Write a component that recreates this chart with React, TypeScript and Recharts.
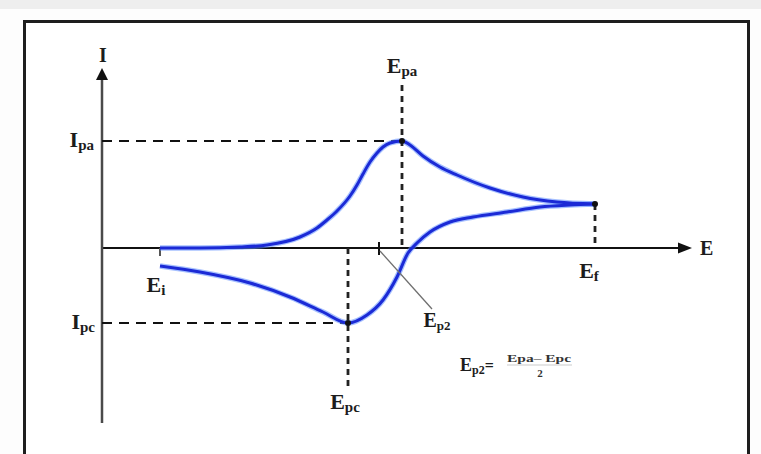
import {
  ComposedChart,
  Line,
  XAxis,
  YAxis,
  ReferenceLine,
  ReferenceDot,
} from "recharts";

// potential sweep, forward (Ei -> Ef)
const forwardE = [58, 98, 138, 165, 198, 215, 225, 235, 248, 255, 261, 268, 275, 281, 288, 300, 308, 321, 338, 355, 388, 421, 455, 493];
const forwardI = [0, 0, 1, 3, 11, 20, 28, 37, 52, 63, 74, 86, 95, 101, 105, 107, 103, 92, 81, 73, 60, 51, 46, 44];

// reverse sweep (Ef -> Ei)
const reverseE = [493, 468, 438, 405, 371, 348, 328, 315, 306, 295, 281, 265, 246, 221, 188, 148, 98, 58];
const reverseI = [44, 43, 41, 36, 31, 26, 16, 5, -5, -29, -52, -67, -75, -64, -49, -35, -24, -18];

// characteristic potentials on the E axis
const potentialNames = ["Ei", "Epc", "Ep2", "Epa", "Ef"];
const potentialValues = [58, 246, 277, 300, 493];

// peak currents
const currentNames = ["Ipa", "Ipc"];
const currentValues = [107, -75];

const E_MAX = 590;
const I_MIN = -175;
const I_MAX = 180;

const pot = (name: string) => potentialValues[potentialNames.indexOf(name)];
const cur = (name: string) => currentValues[currentNames.indexOf(name)];

const Ei = pot("Ei");
const Epc = pot("Epc");
const Ep2 = pot("Ep2");
const Epa = pot("Epa");
const Ef = pot("Ef");
const Ipa = cur("Ipa");
const Ipc = cur("Ipc");
const IfEnd = forwardI[forwardI.length - 1];

const forward = forwardE.map((E, i) => ({ E, I: forwardI[i] }));
// monotone curve wants ascending E
const reverse = reverseE
  .map((E, i) => ({ E, I: reverseI[i] }))
  .sort((a, b) => a.E - b.E);

const serif = "'Liberation Serif', 'DejaVu Serif', serif";
const ink = "#1c1c1c";

type DotProps = { cx?: number; cy?: number };

function symbol(
  main: string,
  sub: string,
  dx: number,
  dy: number,
  anchor: "start" | "middle" | "end" = "middle",
  size = 22
) {
  return (p: DotProps) => (
    <text
      x={(p.cx ?? 0) + dx}
      y={(p.cy ?? 0) + dy}
      textAnchor={anchor}
      fontFamily={serif}
      fontWeight="bold"
      fontSize={size}
      fill={ink}
    >
      {main}
      {sub ? (
        <tspan fontSize={Math.round(size * 0.66)} dy={3}>
          {sub}
        </tspan>
      ) : null}
    </text>
  );
}

const arrowRight = (p: DotProps) => {
  const x = p.cx ?? 0;
  const y = p.cy ?? 0;
  return <polygon points={`${x},${y} ${x - 14},${y - 5.5} ${x - 14},${y + 5.5}`} fill="#111" />;
};

const arrowUp = (p: DotProps) => {
  const x = p.cx ?? 0;
  const y = p.cy ?? 0;
  return <polygon points={`${x},${y} ${x - 6},${y + 12} ${x + 6},${y + 12}`} fill="#111" />;
};

const ep2Label = (p: DotProps) => {
  const x = p.cx ?? 0;
  const y = p.cy ?? 0;
  return (
    <g>
      <line x1={x + 1} y1={y + 3} x2={x + 53} y2={y + 61} stroke="#6f6f6f" strokeWidth={1.3} />
      {symbol("E", "p2", 58, 79, "middle", 20)(p)}
      {/* Ep2 = (Epa - Epc) / 2 */}
      <text x={x + 81} y={y + 123} fontFamily={serif} fontWeight="bold" fontSize={18} fill={ink}>
        E
        <tspan fontSize={12} dy={3}>p2</tspan>
        <tspan fontSize={16} dy={-3}>=</tspan>
      </text>
      <text
        x={x + 128}
        y={y + 114}
        fontFamily={serif}
        fontWeight="bold"
        fontSize={11}
        fill="#333"
        textLength={64}
        lengthAdjust="spacingAndGlyphs"
      >
        Epa– Epc
      </text>
      <line x1={x + 128} y1={y + 117} x2={x + 193} y2={y + 117} stroke="#b5b5b5" strokeWidth={0.7} />
      <text x={x + 161} y={y + 129} textAnchor="middle" fontFamily={serif} fontWeight="bold" fontSize={11} fill="#333">
        2
      </text>
    </g>
  );
};

const dotShape = (p: DotProps) => <circle cx={p.cx} cy={p.cy} r={3} fill="#111" />;

export default function App() {
  return (
    <div
      style={{
        position: "absolute",
        left: 0,
        top: 0,
        width: 761,
        height: 454,
        overflow: "hidden",
        background: "#fdfdfd",
      }}
    >
      <div style={{ position: "absolute", left: 0, top: 0, width: 761, height: 9, background: "#eeeeee" }} />
      <div
        style={{
          position: "absolute",
          left: 23,
          top: 20,
          width: 727,
          height: 460,
          border: "3px solid #1e1e1e",
          boxSizing: "border-box",
          background: "#ffffff",
        }}
      />
      <div style={{ position: "absolute", left: 0, top: 0 }}>
        <ComposedChart
          width={761}
          height={454}
          margin={{ top: 68, right: 69, bottom: 31, left: 102 }}
        >
          <XAxis type="number" dataKey="E" domain={[0, E_MAX]} hide allowDataOverflow />
          <YAxis type="number" dataKey="I" domain={[I_MIN, I_MAX]} hide allowDataOverflow />

          {/* axes */}
          <ReferenceLine
            segment={[{ x: 0, y: 0 }, { x: E_MAX - 12, y: 0 }]}
            stroke="#111"
            strokeWidth={2}
            ifOverflow="visible"
          />
          <ReferenceLine
            segment={[{ x: 0, y: I_MIN }, { x: 0, y: I_MAX - 10 }]}
            stroke="#4a4a4a"
            strokeWidth={2.5}
            ifOverflow="visible"
          />
          <ReferenceDot x={E_MAX} y={0} r={0} shape={arrowRight} ifOverflow="visible" />
          <ReferenceDot x={0} y={I_MAX} r={0} shape={arrowUp} ifOverflow="visible" />

          {/* peak guides */}
          <ReferenceLine
            segment={[{ x: 0, y: Ipa }, { x: Epa, y: Ipa }]}
            stroke="#111"
            strokeWidth={2.2}
            strokeDasharray="10 7"
            ifOverflow="visible"
          />
          <ReferenceLine
            segment={[{ x: 0, y: Ipc }, { x: Epc, y: Ipc }]}
            stroke="#111"
            strokeWidth={2.2}
            strokeDasharray="10 7"
            ifOverflow="visible"
          />
          <ReferenceLine
            segment={[{ x: Epa, y: 163 }, { x: Epa, y: 0 }]}
            stroke="#222"
            strokeWidth={2.8}
            strokeDasharray="6 5"
            ifOverflow="visible"
          />
          <ReferenceLine
            segment={[{ x: Epc, y: 0 }, { x: Epc, y: -139 }]}
            stroke="#222"
            strokeWidth={2.8}
            strokeDasharray="6 5"
            ifOverflow="visible"
          />
          <ReferenceLine
            segment={[{ x: Ef, y: IfEnd }, { x: Ef, y: 0 }]}
            stroke="#222"
            strokeWidth={2.8}
            strokeDasharray="6 5"
            ifOverflow="visible"
          />

          {/* ticks */}
          <ReferenceLine
            segment={[{ x: Ei, y: 0 }, { x: Ei, y: -8 }]}
            stroke="#555"
            strokeWidth={2}
            ifOverflow="visible"
          />
          <ReferenceLine
            segment={[{ x: Ep2, y: 6 }, { x: Ep2, y: -7 }]}
            stroke="#111"
            strokeWidth={2}
            ifOverflow="visible"
          />

          {/* voltammogram */}
          <Line
            data={forward}
            dataKey="I"
            type="monotone"
            stroke="#5d8dff"
            strokeOpacity={0.55}
            strokeWidth={5.5}
            dot={false}
            activeDot={false}
            isAnimationActive={false}
          />
          <Line
            data={reverse}
            dataKey="I"
            type="monotone"
            stroke="#5d8dff"
            strokeOpacity={0.55}
            strokeWidth={5.5}
            dot={false}
            activeDot={false}
            isAnimationActive={false}
          />
          <Line
            data={forward}
            dataKey="I"
            type="monotone"
            stroke="#1b2ad6"
            strokeWidth={3}
            dot={false}
            activeDot={false}
            isAnimationActive={false}
          />
          <Line
            data={reverse}
            dataKey="I"
            type="monotone"
            stroke="#1b2ad6"
            strokeWidth={3}
            dot={false}
            activeDot={false}
            isAnimationActive={false}
          />

          <ReferenceDot x={Epa} y={Ipa} r={3} shape={dotShape} ifOverflow="visible" />
          <ReferenceDot x={Epc} y={Ipc} r={3} shape={dotShape} ifOverflow="visible" />
          <ReferenceDot x={Ef} y={IfEnd} r={3} shape={dotShape} ifOverflow="visible" />

          {/* labels */}
          <ReferenceDot x={0} y={I_MAX} r={0} shape={symbol("I", "", 1, -6, "middle", 20)} ifOverflow="visible" />
          <ReferenceDot x={E_MAX} y={0} r={0} shape={symbol("E", "", 8, 7, "start", 20)} ifOverflow="visible" />
          <ReferenceDot x={0} y={Ipa} r={0} shape={symbol("I", "pa", -8, 6, "end")} ifOverflow="visible" />
          <ReferenceDot x={0} y={Ipc} r={0} shape={symbol("I", "pc", -7, 6, "end")} ifOverflow="visible" />
          <ReferenceDot x={Epa} y={163} r={0} shape={symbol("E", "pa", 0, -12)} ifOverflow="visible" />
          <ReferenceDot x={Epc} y={-139} r={0} shape={symbol("E", "pc", -3, 22)} ifOverflow="visible" />
          <ReferenceDot x={Ei} y={0} r={0} shape={symbol("E", "i", -4, 44)} ifOverflow="visible" />
          <ReferenceDot x={Ef} y={0} r={0} shape={symbol("E", "f", -6, 30)} ifOverflow="visible" />
          <ReferenceDot x={Ep2} y={0} r={0} shape={ep2Label} ifOverflow="visible" />
        </ComposedChart>
      </div>
    </div>
  );
}
